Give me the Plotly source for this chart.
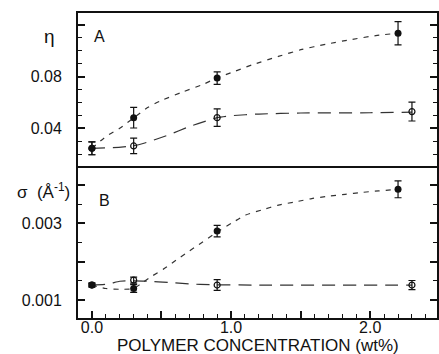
import plotly.graph_objects as go

# ---------------- data ----------------
conc_filled = [0.0, 0.3, 0.9, 2.2]
conc_open = [0.0, 0.3, 0.9, 2.3]

eta_filled = [0.0245, 0.0482, 0.0788, 0.1136]
eta_filled_err = [0.005, 0.008, 0.0048, 0.009]
eta_open = [0.0245, 0.0263, 0.0482, 0.0529]
eta_open_err = [0.005, 0.006, 0.0068, 0.0073]

sigma_filled = [0.00139, 0.00130, 0.00280, 0.00389]
sigma_filled_err = [0.00005, 0.00010, 0.00015, 0.00022]
sigma_open = [0.00139, 0.00152, 0.00139, 0.00139]
sigma_open_err = [0.00005, 0.00008, 0.00014, 0.00012]

# fitted guide curves
fitA_filled_x = [0, 0.1, 0.2, 0.3, 0.4, 0.5, 0.65, 0.8, 0.9, 1.0, 1.15, 1.34, 1.51, 1.68, 1.86, 2.04, 2.2]
fitA_filled_y = [0.0245, 0.0335, 0.040, 0.048, 0.056, 0.0615, 0.068, 0.074, 0.079, 0.083, 0.089, 0.0956, 0.101, 0.105, 0.1086, 0.1117, 0.1136]
fitA_open_x = [0, 0.15, 0.3, 0.38, 0.55, 0.7, 0.9, 1.0, 1.2, 1.5, 2.0, 2.3]
fitA_open_y = [0.0245, 0.025, 0.0265, 0.0286, 0.0348, 0.0413, 0.0482, 0.0497, 0.051, 0.0518, 0.052, 0.0525]

fitB_filled_x = [0, 0.1, 0.2, 0.3, 0.35, 0.43, 0.52, 0.605, 0.676, 0.77, 0.87, 0.92, 1.01, 1.105, 1.22, 1.34, 1.46, 1.58, 1.70, 1.82, 1.94, 2.06, 2.2]
fitB_filled_y = [0.00139, 0.00130, 0.00128, 0.00130, 0.00142, 0.00162, 0.00182, 0.00204, 0.00222, 0.00245, 0.00270, 0.00282, 0.00302, 0.00322, 0.00335, 0.00348, 0.00356, 0.00365, 0.00371, 0.00376, 0.00381, 0.00385, 0.00389]
fitB_open_x = [0, 0.12, 0.2, 0.3, 0.4, 0.55, 0.7, 0.85, 1.2, 2.3]
fitB_open_y = [0.00139, 0.00142, 0.00149, 0.00150, 0.00149, 0.00146, 0.00142, 0.00140, 0.00139, 0.00139]

x_tickvals = [0, 0.5, 1.0, 1.5, 2.0]
x_ticktext = ["0.0", " ", "1.0", " ", "2.0"]
yA_tickvals = [0.04, 0.08, 0.12]
yA_ticktext = ["0.04", "0.08", " "]
yB_tickvals = [0.001, 0.002, 0.003, 0.004]
yB_ticktext = ["0.001", " ", "0.003", " "]

# ---------------- styling ----------------
FONT = "Liberation Sans, Arial, Helvetica, sans-serif"
INK = "#111111"
LINE = "#333333"

fig = go.Figure()

def add_panel(xf, yf, ef, xo, yo, eo, fxf, fyf, fxo, fyo, xa, ya):
    fig.add_trace(go.Scatter(x=fxf, y=fyf, mode="lines", line=dict(color=LINE, width=1.2, dash="5px,6px", shape="spline", smoothing=0.6),
                             xaxis=xa, yaxis=ya, hoverinfo="skip", showlegend=False))
    fig.add_trace(go.Scatter(x=fxo, y=fyo, mode="lines", line=dict(color=LINE, width=1.2, dash="13px,8px", shape="spline", smoothing=0.6),
                             xaxis=xa, yaxis=ya, hoverinfo="skip", showlegend=False))
    fig.add_trace(go.Scatter(x=xo, y=yo, mode="markers",
                             marker=dict(symbol="circle-open", size=6, color=INK, line=dict(width=1.2, color=INK)),
                             error_y=dict(type="data", array=eo, visible=True, color=INK, thickness=1.2, width=3.5),
                             xaxis=xa, yaxis=ya, showlegend=False))
    fig.add_trace(go.Scatter(x=xf, y=yf, mode="markers",
                             marker=dict(symbol="circle", size=7, color=INK),
                             error_y=dict(type="data", array=ef, visible=True, color=INK, thickness=1.2, width=3.5),
                             xaxis=xa, yaxis=ya, showlegend=False))

add_panel(conc_filled, eta_filled, eta_filled_err, conc_open, eta_open, eta_open_err,
          fitA_filled_x, fitA_filled_y, fitA_open_x, fitA_open_y, "x2", "y")
add_panel(conc_filled, sigma_filled, sigma_filled_err, conc_open, sigma_open, sigma_open_err,
          fitB_filled_x, fitB_filled_y, fitB_open_x, fitB_open_y, "x", "y2")

XR = [-0.1, 2.48]
SPLIT = 0.4984

axis_common = dict(showline=True, linecolor=INK, linewidth=2, showgrid=False, zeroline=False,
                   tickfont=dict(family=FONT, size=16, color=INK))

fig.update_layout(
    width=439, height=354,
    margin=dict(l=78, r=0, t=13, b=36),
    paper_bgcolor="white", plot_bgcolor="white",
    showlegend=False,
    xaxis=dict(**axis_common, range=XR, domain=[0, 1], anchor="y2", mirror=False,
               tickmode="array", tickvals=x_tickvals, ticktext=x_ticktext,
               ticks="inside", ticklen=7, tickwidth=1.5, tickcolor=INK, ticklabelstandoff=-6,
               minor=dict(tickmode="linear", tick0=0, dtick=0.1, ticks="inside", ticklen=4, tickwidth=1.2, tickcolor=INK)),
    xaxis2=dict(**axis_common, range=XR, domain=[0, 1], anchor="y", mirror=True, matches="x",
                showticklabels=False, ticks=""),
    yaxis=dict(**axis_common, domain=[SPLIT, 1], range=[0.0108, 0.1292], anchor="x2", mirror="ticks",
               tickmode="array", tickvals=yA_tickvals, ticktext=yA_ticktext,
               ticks="inside", ticklen=7, tickwidth=1.5, tickcolor=INK, ticklabelstandoff=11,
               minor=dict(tickmode="linear", tick0=0, dtick=0.01, ticks="inside", ticklen=4, tickwidth=1.2, tickcolor=INK)),
    yaxis2=dict(**axis_common, domain=[0, SPLIT], range=[0.00053, 0.0045], anchor="x", mirror="ticks",
                tickmode="array", tickvals=yB_tickvals, ticktext=yB_ticktext,
                ticks="inside", ticklen=7, tickwidth=1.5, tickcolor=INK, ticklabelstandoff=11,
                minor=dict(tickmode="linear", tick0=0, dtick=0.0005, ticks="inside", ticklen=4, tickwidth=1.2, tickcolor=INK)),
)

annots = [
    dict(text="η", x=0, xref="paper", xanchor="right", xshift=-21, y=0.111, yref="y", yanchor="middle",
         font=dict(family=FONT, size=19, color=INK)),
    dict(text="A", x=0.0, xref="x", xanchor="left", y=0.111, yref="y", yanchor="middle",
         font=dict(family=FONT, size=16, color=INK)),
    dict(text="σ  (Å<sup>-1</sup>)", x=0, xref="paper", xanchor="right", xshift=-6, y=0.00385, yref="y2", yanchor="middle",
         font=dict(family=FONT, size=17, color=INK)),
    dict(text="B", x=0.035, xref="x", xanchor="left", y=0.0036, yref="y2", yanchor="middle",
         font=dict(family=FONT, size=16, color=INK)),
    dict(text="POLYMER CONCENTRATION (wt%)", x=0.5, xref="paper", xanchor="center", y=0, yref="paper",
         yanchor="top", yshift=-16, font=dict(family=FONT, size=17, color=INK)),
]
for a in annots:
    a["showarrow"] = False
    fig.add_annotation(**a)

fig.write_html("out.html", config={"displayModeBar": False},
               post_script="document.body.style.margin='0px';document.body.style.overflow='hidden';")
